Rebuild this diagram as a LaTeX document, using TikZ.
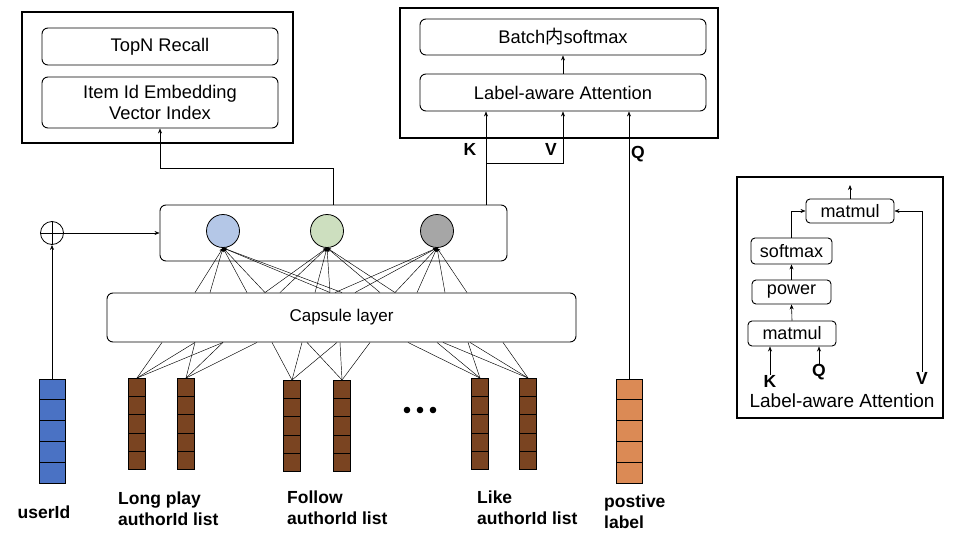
\documentclass[tikz,border=0pt]{standalone}
\usepackage{fontspec}
\setmainfont{Liberation Sans}
\newfontfamily\cjk{Noto Sans CJK SC}
\usetikzlibrary{arrows.meta,calc}
\begin{document}
\begin{tikzpicture}[x=1pt,y=-1pt,
  txt/.style={font=\fontsize{18.3}{21}\selectfont},
  lbl/.style={font=\fontsize{17.5}{21}\selectfont\bfseries, inner sep=0pt},
  outer/.style={draw, line width=1.1pt, inner sep=0pt},
  rbox/.style={draw, rounded corners=6pt, line width=0.9pt, txt, align=center, inner sep=0pt},
  arr/.style={line width=0.6pt, -{Stealth[length=5pt,width=4pt]}},
  ln/.style={line width=0.45pt},
  carr/.style={line width=0.45pt, -{Stealth[length=4pt,width=3.5pt]}},
  caps/.style={draw, circle, line width=0.8pt, minimum size=33pt, inner sep=0pt, fill=#1},
  cellbar/.style={draw, line width=1pt, fill=#1, inner sep=0pt,
    path picture={\foreach \k in {1,2,3,4}{\draw[line width=1pt]
      ($(path picture bounding box.north west)!\k/5!(path picture bounding box.south west)$) --
      ($(path picture bounding box.north east)!\k/5!(path picture bounding box.south east)$);}}},
]
\definecolor{ublue}{HTML}{4A72C4}
\definecolor{brown1}{HTML}{7A4421}
\definecolor{orange1}{HTML}{DB8A55}
\definecolor{cblue}{HTML}{B4C7E7}
\definecolor{cgreen}{HTML}{CDDFBF}
\definecolor{cgray}{HTML}{A6A6A6}
\useasboundingbox (0,0) rectangle (954,546);

% top-left block
\node[outer, minimum width=271pt, minimum height=131pt] (outL) at (157.5,77.5) {};
\node[rbox, minimum width=236pt, minimum height=37pt] (topn) at (160,46.5) {TopN Recall};
\node[rbox, minimum width=236pt, minimum height=51pt] (itemid) at (160,102.5) {Item Id Embedding\\Vector Index};

% top-right block
\node[outer, minimum width=318pt, minimum height=130pt] (outR) at (559,73) {};
\node[rbox, minimum width=286pt, minimum height=36pt] (batch) at (563,37) {Batch{\cjk 内}softmax};
\node[rbox, minimum width=286pt, minimum height=37pt] (laa) at (563,92.5) {Label-aware Attention};
\draw[arr] (laa.north) -- (batch.south);

% capsule output box
\node[rbox, minimum width=347pt, minimum height=56pt] (capbox) at (333.5,233) {};
\node[caps=cblue] (c1) at (223,231) {};
\node[caps=cgreen] (c2) at (327,231) {};
\node[caps=cgray] (c3) at (437,231) {};

% capsule layer
\node[rbox, font=\fontsize{17}{20}\selectfont, minimum width=469pt, minimum height=49pt] (cl) at (341.5,317.5) {Capsule layer};

% oplus
\node[draw, circle, line width=0.8pt, minimum size=23pt, inner sep=0pt] (op) at (52,233) {};
\draw[line width=0.8pt] (op.north) -- (op.south) (op.west) -- (op.east);

% bars
\node[cellbar=ublue, minimum width=26pt, minimum height=104pt] (ub) at (52,431) {};
\node[cellbar=brown1, minimum width=17pt, minimum height=91pt] (b1) at (137,424) {};
\node[cellbar=brown1, minimum width=17pt, minimum height=91pt] (b2) at (186,424) {};
\node[cellbar=brown1, minimum width=17pt, minimum height=91pt] (b3) at (292,426) {};
\node[cellbar=brown1, minimum width=17pt, minimum height=91pt] (b4) at (342,426) {};
\node[cellbar=brown1, minimum width=17pt, minimum height=91pt] (b5) at (480,424) {};
\node[cellbar=brown1, minimum width=17pt, minimum height=91pt] (b6) at (528,424) {};
\node[cellbar=orange1, minimum width=26pt, minimum height=104pt] (pb) at (629,431) {};

% ellipsis
\fill (407,410) circle (3.3pt) (420,410) circle (3.3pt) (433,410) circle (3.3pt);

% bottom labels
\node[lbl] (ulab) at (44,512) {userId};
\node[lbl, align=left, anchor=north west] (l1) at (118,492) {Long play\\authorId list};
\node[lbl, align=left, anchor=north west] (l2) at (287,491) {Follow\\authorId list};
\node[lbl, align=left, anchor=north west] (l3) at (477,491) {Like\\authorId list};
\node[lbl, align=left, anchor=north west] (l4) at (604,495) {postive\\label};

% K V Q labels
\node[lbl] (K) at (470,149) {K};
\node[lbl] (V) at (551,149) {V};
\node[lbl] (Q) at (638,154) {Q};

% connectors: userId -> oplus -> capsule box
\draw[arr] (ub.north) -- (op.south);
\draw[arr] (op.east) -- (capbox.west);

% capsule box -> item id index
\coordinate (ty) at (0,168);
\draw[arr] (capbox.north) -- (capbox.north |- ty) -| (itemid.south);

% K / V / Q
\coordinate (kb) at (486,163);
\coordinate (vx) at (563,0);
\draw[arr] (kb |- capbox.north) -- (kb |- laa.south);
\draw[arr] (kb) -| (vx |- laa.south);
\draw[arr] (pb.north) -- (pb.north |- laa.south);

% capsule layer -> capsules
\foreach \x in {195,210,247,265,330,342} \draw[carr] (\x,0 |- cl.north) -- (c1.south);
\foreach \x in {265,280,315,330,380,395} \draw[carr] (\x,0 |- cl.north) -- (c2.south);
\foreach \x in {335,355,395,417,445,467} \draw[carr] (\x,0 |- cl.north) -- (c3.south);

% behaviour lists -> capsule layer
\foreach \x in {162,195,223} \draw[ln] (\x,0 |- cl.south) -- (b1.north);
\foreach \x in {195,223,257} \draw[ln] (\x,0 |- cl.south) -- (b2.north);
\foreach \x in {272,302,337} \draw[ln] (\x,0 |- cl.south) -- (b3.north);
\foreach \x in {307,340,370} \draw[ln] (\x,0 |- cl.south) -- (b4.north);
\foreach \x in {408,437,468} \draw[ln] (\x,0 |- cl.south) -- (b5.north);
\foreach \x in {443,470,503} \draw[ln] (\x,0 |- cl.south) -- (b6.north);

% right panel: label-aware attention detail
\node[outer, minimum width=206pt, minimum height=241pt] (outP) at (840,297.5) {};
\node[rbox, font=\fontsize{18}{21}\selectfont, rounded corners=4pt, minimum width=88pt, minimum height=24pt] (mm2) at (850,211) {matmul};
\node[rbox, font=\fontsize{18}{21}\selectfont, rounded corners=4pt, minimum width=81pt, minimum height=26pt] (sm) at (791.5,251) {softmax};
\node[rbox, font=\fontsize{18}{21}\selectfont, rounded corners=4pt, minimum width=79pt, minimum height=24pt] (pw) at (791.5,292) {power};
\node[rbox, font=\fontsize{18}{21}\selectfont, rounded corners=4pt, minimum width=88pt, minimum height=25pt] (mm1) at (792,333.5) {matmul};
\node[lbl] (pK) at (770,381) {K};
\node[lbl] (pQ) at (819,372) {Q};
\node[lbl] (pV) at (922,378) {V};
\node[font=\fontsize{19}{22}\selectfont, inner sep=0pt] (pt) at (842,401) {Label-aware Attention};
\coordinate (pout) at (850,185);
\draw[arr] (mm1.north) -- (pw.south);
\draw[arr] (pw.north) -- (sm.south);
\draw[arr] (sm.north) |- (mm2.west);
\draw[arr] (pV.north) |- (mm2.east);
\draw[arr] (pK.north) -- (pK.north |- mm1.south);
\draw[arr] (pQ.north) -- (pQ.north |- mm1.south);
\draw[arr] (mm2.north) -- (pout);
\end{tikzpicture}
\end{document}
